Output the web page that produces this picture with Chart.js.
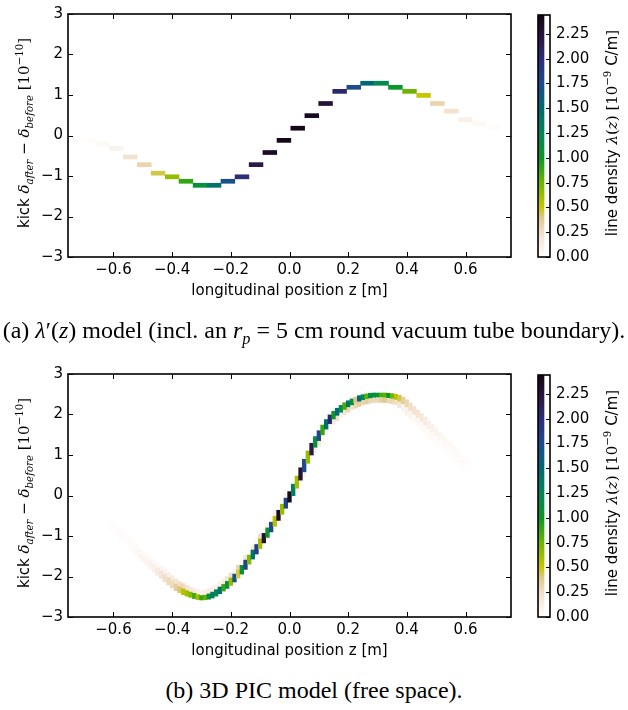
<!DOCTYPE html>
<html lang="en">
<head>
<meta charset="utf-8">
<title>Kick vs longitudinal position</title>
<script src="https://cdn.jsdelivr.net/npm/chart.js"></script>
<style>
  body { margin: 0; background: #fff; }
  #page { position: relative; width: 628px; height: 710px; overflow: hidden; font-family: "DejaVu Sans", sans-serif; color: #000; }
  canvas { position: absolute; }
  .rot { position: absolute; transform: translate(-50%, -50%) rotate(-90deg); white-space: nowrap; font-size: 15px; line-height: 1; }
  .m { font-family: "DejaVu Serif", serif; font-style: italic; }
  .s { font-family: "DejaVu Serif", serif; }
  sub, sup { font-size: 68%; line-height: 0; }
  .caption { position: absolute; left: 0; width: 628px; text-align: center; font-family: "Liberation Serif", "Times New Roman", serif; font-size: 24px; white-space: nowrap; line-height: 1; }
  .caption i { font-style: italic; }
</style>
</head>
<body>
<div id="page">
  <canvas id="chartA" width="522" height="300" style="left:0;top:0"></canvas>
  <canvas id="cbarA" width="103" height="300" style="left:525px;top:0"></canvas>
  <canvas id="chartB" width="522" height="300" style="left:0;top:360px"></canvas>
  <canvas id="cbarB" width="103" height="300" style="left:525px;top:360px"></canvas>

  <div class="rot" style="left:24px;top:133px">kick <span class="m">δ<sub>after</sub></span> <span class="s">−</span> <span class="m">δ<sub>before</sub></span> <span class="s">[10<sup>−10</sup>]</span></div>
  <div class="rot" style="left:24px;top:493px">kick <span class="m">δ<sub>after</sub></span> <span class="s">−</span> <span class="m">δ<sub>before</sub></span> <span class="s">[10<sup>−10</sup>]</span></div>
  <div class="rot" style="left:612px;top:133px">line density <span class="m">λ</span><span class="s">(</span><span class="m">z</span><span class="s">)</span> <span class="s">[10<sup>−9</sup></span> C/m<span class="s">]</span></div>
  <div class="rot" style="left:612px;top:493px">line density <span class="m">λ</span><span class="s">(</span><span class="m">z</span><span class="s">)</span> <span class="s">[10<sup>−9</sup></span> C/m<span class="s">]</span></div>

  <div class="caption" style="top:318px">(a) <i>λ</i>′(<i>z</i>) model (incl. an <i>r<sub>p</sub></i> = 5 cm round vacuum tube boundary).</div>
  <div class="caption" style="top:678px">(b) 3D PIC model (free space).</div>
</div>

<script>
// tick labels
const xTicks = [-0.6, -0.4, -0.2, 0, 0.2, 0.4, 0.6];
const yTicks = [-3, -2, -1, 0, 1, 2, 3];
const cbTicks = [0, 0.25, 0.5, 0.75, 1, 1.25, 1.5, 1.75, 2, 2.25];
const lamMax = 2.44;

// (a) lambda'(z) model: bin centre z [m], kick [1e-10], line density [1e-9 C/m]
const zA = [-0.686, -0.638, -0.591, -0.543, -0.495, -0.448, -0.400, -0.353, -0.305, -0.257,
            -0.210, -0.162, -0.114, -0.067, -0.019, 0.028, 0.076, 0.123, 0.171, 0.219,
            0.266, 0.314, 0.361, 0.409, 0.457, 0.504, 0.552, 0.599, 0.647, 0.694];
const kickA = [-0.12, -0.21, -0.32, -0.53, -0.72, -0.93, -1.02, -1.13, -1.23, -1.23,
               -1.13, -1.02, -0.72, -0.42, -0.12, 0.18, 0.49, 0.79, 1.09, 1.19,
               1.29, 1.29, 1.19, 1.09, 0.99, 0.79, 0.60, 0.39, 0.29, 0.20];
const lamA = [0.02, 0.05, 0.10, 0.22, 0.32, 0.45, 0.65, 0.90, 1.10, 1.40,
              1.70, 2.00, 2.20, 2.35, 2.42, 2.42, 2.38, 2.28, 2.05, 1.75,
              1.50, 1.20, 1.00, 0.75, 0.50, 0.32, 0.22, 0.12, 0.06, 0.03];

// (b) 3D PIC model: column centre z [m], kick of the core line, its density,
// and the faint neighbouring band (kick, density)
const zB = [-0.6125, -0.6, -0.5875, -0.575, -0.5625, -0.55, -0.5375, -0.525, -0.5125, -0.5,
            -0.4875, -0.475, -0.4625, -0.45, -0.4375, -0.425, -0.4125, -0.4, -0.3875, -0.375,
            -0.3625, -0.35, -0.3375, -0.325, -0.3125, -0.3, -0.2875, -0.275, -0.2625, -0.25,
            -0.2375, -0.225, -0.2125, -0.2, -0.1875, -0.175, -0.1625, -0.15, -0.1375, -0.125,
            -0.1125, -0.1, -0.0875, -0.075, -0.0625, -0.05, -0.0375, -0.025, -0.0125, 0,
            0.0125, 0.025, 0.0375, 0.05, 0.0625, 0.075, 0.0875, 0.1, 0.1125, 0.125,
            0.1375, 0.15, 0.1625, 0.175, 0.1875, 0.2, 0.2125, 0.225, 0.2375, 0.25,
            0.2625, 0.275, 0.2875, 0.3, 0.3125, 0.325, 0.3375, 0.35, 0.3625, 0.375,
            0.3875, 0.4, 0.4125, 0.425, 0.4375, 0.45, 0.4625, 0.475, 0.4875, 0.5,
            0.5125, 0.525, 0.5375, 0.55, 0.5625, 0.575, 0.5875, 0.6, 0.6125];
const kickB = [-0.75, -0.82, -0.90, -0.98, -1.06, -1.15, -1.25, -1.35, -1.45, -1.55,
               -1.63, -1.72, -1.80, -1.88, -1.96, -2.04, -2.12, -2.20, -2.27, -2.33,
               -2.38, -2.42, -2.45, -2.48, -2.51, -2.53, -2.52, -2.50, -2.46, -2.41,
               -2.34, -2.28, -2.21, -2.13, -2.04, -1.94, -1.84, -1.71, -1.58, -1.46,
               -1.33, -1.19, -1.05, -0.92, -0.78, -0.64, -0.49, -0.34, -0.19, -0.04,
               0.13, 0.33, 0.53, 0.74, 0.95, 1.15, 1.33, 1.48, 1.62, 1.76,
               1.89, 1.99, 2.07, 2.14, 2.21, 2.27, 2.31, 2.36, 2.40, 2.43,
               2.45, 2.47, 2.48, 2.48, 2.48, 2.48, 2.47, 2.46, 2.44, 2.41,
               2.35, 2.28, 2.19, 2.10, 2.02, 1.93, 1.84, 1.75, 1.66, 1.57,
               1.48, 1.39, 1.30, 1.22, 1.13, 1.04, 0.94, 0.85, 0.76];
const lamB = [0.02, 0.02, 0.02, 0.03, 0.03, 0.03, 0.04, 0.05, 0.06, 0.07,
              0.08, 0.10, 0.12, 0.16, 0.20, 0.24, 0.28, 0.28, 0.35, 0.42,
              0.55, 0.62, 0.70, 0.85, 0.62, 0.90, 0.78, 1.10, 1.35, 1.20,
              1.45, 0.90, 1.10, 0.65, 1.70, 0.45, 1.05, 1.80, 0.70, 1.40,
              1.85, 0.60, 2.30, 1.00, 1.75, 0.55, 2.35, 0.65, 1.80, 2.40,
              1.30, 0.60, 2.30, 1.75, 0.65, 2.20, 1.10, 1.80, 0.90, 1.45,
              2.05, 1.00, 1.50, 1.20, 0.85, 1.40, 1.10, 0.40, 1.50, 1.25,
              0.80, 1.15, 1.10, 1.05, 0.85, 0.80, 1.00, 0.75, 0.55, 0.45,
              0.35, 0.30, 0.25, 0.22, 0.20, 0.18, 0.15, 0.12, 0.10, 0.08,
              0.07, 0.06, 0.05, 0.05, 0.04, 0.04, 0.03, 0.03, 0.02];
const haloKickB = [-0.63, -0.70, -0.78, -0.86, -0.94, -1.03, -1.13, -1.23, -1.33, -1.43,
                   -1.50, -1.59, -1.67, -1.75, -1.83, -1.91, -1.99, -2.07, -2.14, -2.20,
                   -2.25, -2.29, -2.32, -2.35, -2.38, -2.40, -2.39, -2.37, -2.33, -2.28,
                   -2.22, -2.16, -2.09, -2.01, -1.92, -1.82, -1.72, -1.59, -1.46, -1.34,
                   -1.21, -1.07, -0.93, -0.80, -0.66, -0.52, -0.37, -0.22, -0.07, 0.08,
                   0.00, 0.20, 0.40, 0.61, 0.82, 1.02, 1.20, 1.35, 1.49, 1.63,
                   1.76, 1.86, 1.94, 2.01, 2.08, 2.14, 2.18, 2.23, 2.27, 2.30,
                   2.32, 2.34, 2.35, 2.35, 2.35, 2.35, 2.34, 2.33, 2.31, 2.28,
                   2.15, 2.08, 1.99, 1.90, 1.82, 1.73, 1.64, 1.55, 1.46, 1.37,
                   1.28, 1.19, 1.10, 1.02, 0.93, 0.84, 0.74, 0.65, 0.56];
const haloLamB = [0.01, 0.01, 0.01, 0.01, 0.01, 0.01, 0.01, 0.02, 0.02, 0.02,
                  0.03, 0.04, 0.05, 0.06, 0.08, 0.10, 0.12, 0.16, 0.20, 0.24,
                  0.28, 0.22, 0.18, 0.15, 0.12, 0.10, 0.12, 0.15, 0.12, 0.10,
                  0.10, 0.15, 0.20, 0.25, 0.12, 0.30, 0.10, 0.20, 0.05, 0.15,
                  0.08, 0.25, 0.05, 0.12, 0.05, 0.10, 0.04, 0.05, 0.10, 0.05,
                  0.04, 0.06, 0.05, 0.10, 0.05, 0.06, 0.10, 0.20, 0.05, 0.08,
                  0.08, 0.15, 0.25, 0.10, 0.20, 0.30, 0.20, 0.30, 0.35, 0.30,
                  0.35, 0.30, 0.28, 0.30, 0.35, 0.40, 0.30, 0.30, 0.25, 0.20,
                  0.08, 0.10, 0.08, 0.06, 0.06, 0.05, 0.05, 0.04, 0.04, 0.03,
                  0.03, 0.03, 0.02, 0.02, 0.02, 0.02, 0.02, 0.01, 0.01];

// colour map (white -> tan -> yellow -> green -> teal -> blue -> black)
const cmapStops = [
  [0.00, [255, 255, 255]], [0.12, [249, 240, 233]], [0.25, [243, 222, 200]],
  [0.40, [222, 200, 140]], [0.50, [200, 198, 0]], [0.62, [160, 190, 0]],
  [0.75, [110, 180, 0]], [0.90, [50, 165, 20]], [1.00, [10, 150, 40]],
  [1.25, [0, 135, 90]], [1.50, [0, 105, 115]], [1.75, [30, 75, 140]],
  [2.00, [45, 45, 120]], [2.20, [45, 25, 70]], [2.44, [20, 5, 20]]
];
function cmap(v) {
  v = Math.max(0, Math.min(lamMax, v));
  for (let i = 1; i < cmapStops.length; i++) {
    const [v1, c1] = cmapStops[i];
    if (v <= v1) {
      const [v0, c0] = cmapStops[i - 1];
      const t = (v - v0) / (v1 - v0);
      const c = c0.map((a, k) => Math.round(a + (c1[k] - a) * t));
      return `rgb(${c[0]}, ${c[1]}, ${c[2]})`;
    }
  }
  const c = cmapStops[cmapStops.length - 1][1];
  return `rgb(${c[0]}, ${c[1]}, ${c[2]})`;
}

Chart.defaults.font.family = '"DejaVu Sans", sans-serif';
Chart.defaults.font.size = 15;
Chart.defaults.color = '#000';

const cellHalf = 0.05; // half height of a kick bin

// vertical extent of each column: reaches half way to the neighbours
function cellSpans(vals) {
  return vals.map((v, i) => {
    const a = i > 0 ? (vals[i - 1] + v) / 2 : v;
    const b = i < vals.length - 1 ? (v + vals[i + 1]) / 2 : v;
    return [Math.min(v, a, b) - cellHalf, Math.max(v, a, b) + cellHalf];
  });
}

const minus = (s) => s.replace('-', '\u2212');

// black frame with inward ticks on all four sides
const framePlugin = {
  id: 'frame',
  afterDraw(chart) {
    const { ctx, chartArea: a, scales } = chart;
    ctx.save();
    ctx.strokeStyle = '#000';
    ctx.lineWidth = 1;
    ctx.beginPath();
    scales.x.ticks.forEach(t => {
      const p = Math.round(scales.x.getPixelForValue(t.value)) + 0.5;
      ctx.moveTo(p, a.bottom); ctx.lineTo(p, a.bottom - 5);
      ctx.moveTo(p, a.top); ctx.lineTo(p, a.top + 5);
    });
    scales.y.ticks.forEach(t => {
      const p = Math.round(scales.y.getPixelForValue(t.value)) + 0.5;
      ctx.moveTo(a.left, p); ctx.lineTo(a.left + 5, p);
      ctx.moveTo(a.right, p); ctx.lineTo(a.right - 5, p);
    });
    ctx.stroke();
    ctx.lineWidth = 1.6;
    ctx.strokeRect(a.left, a.top, a.right - a.left, a.bottom - a.top);
    ctx.restore();
  }
};

function mainOptions() {
  return {
    responsive: false,
    animation: false,
    events: [],
    layout: { padding: { top: 10, right: 11, left: 0, bottom: 0 } },
    plugins: { legend: { display: false }, tooltip: { enabled: false } },
    scales: {
      x: {
        type: 'linear',
        min: -0.755,
        max: 0.755,
        offset: false,
        grid: { display: false, drawTicks: false },
        border: { display: false },
        afterBuildTicks: (s) => { s.ticks = xTicks.map(v => ({ value: v })); },
        afterFit: (s) => { s.height = 43; },
        ticks: { padding: 4, maxRotation: 0, callback: (v) => minus(Number(v).toFixed(1)) },
        title: { display: true, text: 'longitudinal position z [m]', font: { size: 15 }, padding: { top: 0, bottom: 0 } }
      },
      y: {
        min: -3,
        max: 3,
        grid: { display: false, drawTicks: false },
        border: { display: false },
        afterBuildTicks: (s) => { s.ticks = yTicks.map(v => ({ value: v })); },
        afterFit: (s) => { s.width = 68; },
        ticks: { padding: 5, callback: (v) => minus(String(v)) }
      }
    }
  };
}

// (a) model: one short bar per z bin
new Chart(document.getElementById('chartA'), {
  type: 'bar',
  data: {
    datasets: [{
      data: zA.map((z, i) => ({ x: z, y: [kickA[i] - cellHalf, kickA[i] + cellHalf] })),
      backgroundColor: lamA.map(cmap),
      borderWidth: 0,
      barPercentage: 1,
      categoryPercentage: 1
    }]
  },
  options: mainOptions(),
  plugins: [framePlugin]
});

// (b) PIC model: core line on top, faint band underneath
const coreSpans = cellSpans(kickB);
const haloSpans = cellSpans(haloKickB);
new Chart(document.getElementById('chartB'), {
  type: 'bar',
  data: {
    datasets: [{
      data: zB.map((z, i) => ({ x: z, y: coreSpans[i] })),
      backgroundColor: lamB.map(cmap),
      borderWidth: 0,
      barPercentage: 1,
      categoryPercentage: 1,
      grouped: false
    }, {
      data: zB.map((z, i) => ({ x: z, y: haloSpans[i] })),
      backgroundColor: haloLamB.map(cmap),
      borderWidth: 0,
      barPercentage: 1,
      categoryPercentage: 1,
      grouped: false
    }]
  },
  options: mainOptions(),
  plugins: [framePlugin]
});

// colour bars
const cbarFrame = {
  id: 'cbarFrame',
  afterDraw(chart) {
    const { ctx, chartArea: a, scales } = chart;
    ctx.save();
    ctx.strokeStyle = '#000';
    ctx.lineWidth = 1;
    ctx.beginPath();
    scales.y.ticks.forEach(t => {
      const p = Math.round(scales.y.getPixelForValue(t.value)) + 0.5;
      ctx.moveTo(a.right, p); ctx.lineTo(a.right - 4, p);
    });
    ctx.stroke();
    ctx.lineWidth = 1.6;
    ctx.strokeRect(a.left, a.top, a.right - a.left, a.bottom - a.top);
    ctx.restore();
  }
};

function makeColorbar(id) {
  new Chart(document.getElementById(id), {
    type: 'bar',
    data: {
      labels: ['λ'],
      datasets: [{
        data: [[0, lamMax]],
        backgroundColor: (c) => {
          const chart = c.chart;
          if (!chart.chartArea) return '#fff';
          const y = chart.scales.y;
          const g = chart.ctx.createLinearGradient(0, y.getPixelForValue(0), 0, y.getPixelForValue(lamMax));
          cmapStops.forEach(([v, col]) => g.addColorStop(v / lamMax, `rgb(${col[0]}, ${col[1]}, ${col[2]})`));
          return g;
        },
        borderWidth: 0,
        barPercentage: 1,
        categoryPercentage: 1
      }]
    },
    options: {
      responsive: false,
      animation: false,
      events: [],
      layout: { padding: { top: 10, bottom: 43, left: 13, right: 0 } },
      plugins: { legend: { display: false }, tooltip: { enabled: false } },
      scales: {
        x: { display: false, offset: false },
        y: {
          position: 'right',
          min: 0,
          max: lamMax,
          grid: { display: false, drawTicks: false },
          border: { display: false },
          afterBuildTicks: (s) => { s.ticks = cbTicks.map(v => ({ value: v })); },
          afterFit: (s) => { s.width = 78; },
          ticks: { padding: 6, callback: (v) => Number(v).toFixed(2) }
        }
      }
    },
    plugins: [cbarFrame]
  });
}
makeColorbar('cbarA');
makeColorbar('cbarB');
</script>
</body>
</html>
